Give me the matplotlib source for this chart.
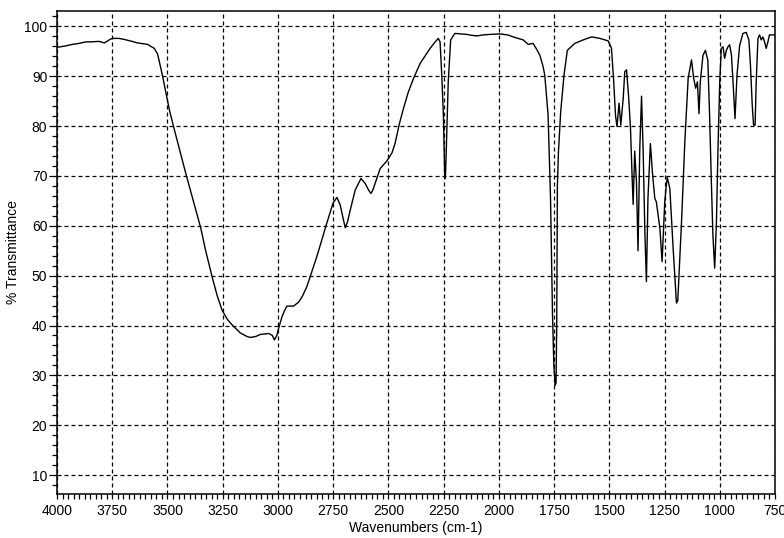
import numpy as np
import matplotlib
matplotlib.use("Agg")
import matplotlib.pyplot as plt
from matplotlib.ticker import MultipleLocator

# --- IR spectrum (wavenumber cm-1, % transmittance) ---
wavenumbers = [
    4000, 3960, 3930, 3900, 3870, 3847, 3810, 3786, 3770, 3760, 3749, 3720, 3696,
    3660, 3636, 3590, 3560, 3545, 3538, 3523, 3508, 3490, 3470, 3417, 3380, 3349,
    3327, 3298, 3275, 3253, 3230, 3207, 3170, 3140, 3125, 3100, 3080, 3042, 3025,
    3016, 3005, 2997, 2982, 2970, 2959, 2929, 2906, 2890, 2869, 2824, 2779, 2751,
    2733, 2718, 2705, 2695, 2685, 2673, 2650, 2624, 2605, 2590, 2579, 2570, 2560,
    2537, 2507, 2484, 2470, 2450, 2432, 2410, 2386, 2356, 2311, 2290, 2274, 2266,
    2258, 2251, 2245, 2242, 2238, 2229, 2218, 2199, 2146, 2120, 2100, 2070, 2040,
    1995, 1960, 1935, 1890, 1867, 1845, 1830, 1814, 1800, 1792, 1777, 1766, 1757,
    1751, 1745, 1741, 1738, 1735, 1730, 1720, 1705, 1690, 1656, 1618, 1580, 1543,
    1505, 1490, 1480, 1472, 1465, 1456, 1448, 1437, 1430, 1422, 1412, 1404, 1397,
    1392, 1385, 1377, 1370, 1362, 1354, 1347, 1339, 1332, 1325, 1314, 1305, 1294,
    1287, 1271, 1261, 1249, 1238, 1226, 1211, 1196, 1190, 1173, 1158, 1143, 1128,
    1118, 1109, 1101, 1094, 1088, 1076, 1065, 1054, 1046, 1038, 1031, 1023, 1015,
    1008, 1000, 993, 985, 978, 970, 963, 955, 947, 940, 931, 922, 910, 895, 880,
    868, 861, 853, 847, 840, 835, 827, 820, 812, 805, 797, 790, 782, 775, 750,
]
transmittance = [
    95.8, 96.1, 96.4, 96.6, 96.9, 96.9, 97.0, 96.7, 97.1, 97.4, 97.6, 97.6, 97.4,
    97.0, 96.7, 96.4, 95.6, 94.5, 93.2, 90.2, 86.9, 83.0, 79.5, 70.5, 64.5, 59.5,
    55.0, 49.8, 46.0, 43.1, 41.3, 40.1, 38.5, 37.8, 37.6, 37.8, 38.2, 38.4, 38.0,
    37.1, 38.0, 39.4, 41.7, 43.0, 43.9, 43.9, 44.7, 45.8, 47.8, 53.8, 60.5, 64.5,
    65.7, 64.2, 61.5, 59.6, 60.8, 63.1, 67.2, 69.5, 68.5, 67.2, 66.5, 67.2, 68.5,
    71.5, 73.0, 74.6, 76.5, 80.5, 83.5, 86.8, 89.6, 92.6, 95.6, 96.8, 97.6, 96.9,
    90.0, 82.2, 70.0, 69.5, 75.0, 88.9, 97.3, 98.6, 98.4, 98.2, 98.1, 98.3, 98.4,
    98.5, 98.3, 97.9, 97.3, 96.4, 96.6, 95.5, 94.2, 92.0, 90.2, 82.2, 65.5, 42.1,
    32.0, 28.0, 28.5, 40.0, 68.0, 75.0, 82.9, 90.2, 95.2, 96.6, 97.3, 97.9, 97.6,
    97.1, 95.6, 88.9, 82.2, 79.9, 84.6, 80.2, 85.6, 90.9, 91.3, 85.6, 79.5, 70.2,
    64.3, 75.0, 68.8, 55.0, 75.5, 86.0, 75.5, 58.8, 48.8, 65.5, 76.5, 70.8, 65.5,
    64.8, 59.5, 52.8, 64.8, 69.8, 67.5, 55.5, 44.5, 45.0, 60.8, 76.9, 89.6, 93.3,
    89.6, 87.6, 88.9, 82.5, 88.9, 94.2, 95.2, 93.2, 82.2, 68.8, 58.1, 51.5, 60.8,
    75.5, 88.9, 95.6, 95.9, 93.6, 95.2, 95.9, 96.3, 94.2, 88.9, 81.5, 90.2, 96.2,
    98.6, 98.8, 97.3, 92.2, 84.2, 80.2, 80.2, 88.9, 97.6, 98.3, 97.3, 97.9, 96.9,
    95.6, 96.9, 98.3, 98.3,
]

x_ticks = [4000, 3750, 3500, 3250, 3000, 2750, 2500, 2250, 2000, 1750, 1500, 1250, 1000, 750]
y_ticks = [10, 20, 30, 40, 50, 60, 70, 80, 90, 100]

plt.rcParams['font.family'] = ['Liberation Sans', 'DejaVu Sans']

fig = plt.figure(figsize=(7.84, 5.38), dpi=100)
ax = fig.add_axes([0.0727, 0.0818, 0.9158, 0.8978])

ax.plot(wavenumbers, transmittance, color='black', linewidth=1.0, zorder=3)

ax.set_xlim(4000, 750)
ax.set_ylim(6.2, 103.1)

ax.set_xticks(x_ticks)
ax.set_yticks(y_ticks)
ax.xaxis.set_minor_locator(MultipleLocator(25))
ax.yaxis.set_minor_locator(MultipleLocator(2))

ax.grid(True, which='major', color='black', linestyle=(0, (3.2, 2.4)), linewidth=0.9)

ax.tick_params(axis='x', which='both', direction='out', length=3.5, width=0.9,
               labelsize=10, pad=4, top=False)
ax.tick_params(axis='y', which='major', direction='out', length=6, width=0.9,
               labelsize=10, pad=1, right=False)
ax.tick_params(axis='y', which='minor', direction='out', length=3.5, width=0.9, right=False)

for s in ax.spines.values():
    s.set_linewidth(1.1)
    s.set_color('black')

ax.set_xlabel('Wavenumbers (cm-1)', fontsize=10, labelpad=2)
ax.set_ylabel('% Transmittance', fontsize=10, labelpad=3)

fig.savefig('out.png', dpi=100)
